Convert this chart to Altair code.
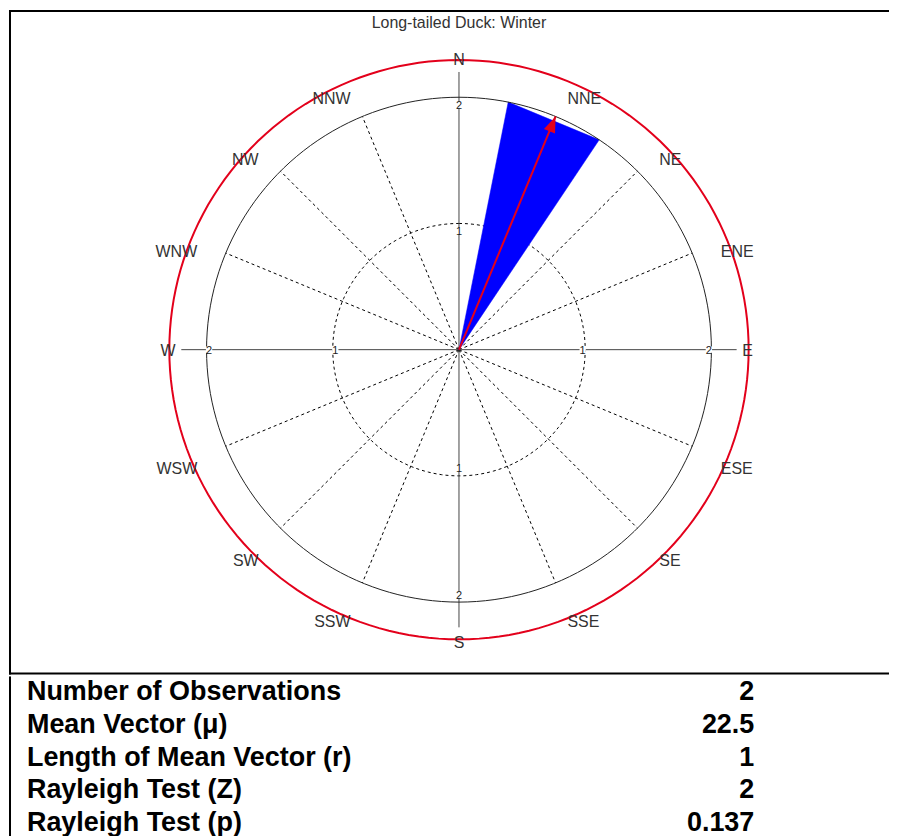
import altair as alt
import pandas as pd

# ---------------- data ----------------
TITLE = "Long-tailed Duck: Winter"
DIRECTIONS = ["N", "NNE", "NE", "ENE", "E", "ESE", "SE", "SSE",
              "S", "SSW", "SW", "WSW", "W", "WNW", "NW", "NNW"]
DIR_ANGLES = [0.0, 22.5, 45.0, 67.5, 90.0, 112.5, 135.0, 157.5,
              180.0, 202.5, 225.0, 247.5, 270.0, 292.5, 315.0, 337.5]
BIN_COUNTS = [0, 2, 0, 0, 0, 0, 0, 0, 0, 0, 0, 0, 0, 0, 0, 0]
RING_VALUES = [1, 2]
MEAN_ANGLE = 22.5
MEAN_LENGTH = 1
STAT_NAMES = ["Number of Observations", "Mean Vector (\u03bc)",
              "Length of Mean Vector (r)", "Rayleigh Test (Z)", "Rayleigh Test (p)"]
STAT_VALUES = ["2", "22.5", "1", "2", "0.137"]

# ---------------- layout / style ----------------
FONT = "Liberation Sans"
UNIT = 126.5                 # pixels per count unit
TOP_W, TOP_H = 882, 666
CX, CY = 451, 340.5          # centre of the rose inside the top panel
TABLE_H = 162
SECTOR_HALF = 11.25
RMAX = max(RING_VALUES)
OUTER_R = 2.295
AXIS_R = 2.2
LABEL_R = 2.245
HEAD_BACK = 8 / UNIT
RED = "#e3001b"
BLUE = "#0000ff"
TXT = "#333333"

XDOM = [-CX / UNIT, (TOP_W - CX) / UNIT]
YDOM = [-(TOP_H - CY) / UNIT, CY / UNIT]
xs = alt.Scale(domain=XDOM, nice=False, zero=False)
ys = alt.Scale(domain=YDOM, nice=False, zero=False)


def X(f):
    return alt.X(f"{f}:Q", scale=xs, axis=None)


def Y(f):
    return alt.Y(f"{f}:Q", scale=ys, axis=None)


def polar(base, r_expr, a_expr, xn="x", yn="y"):
    return base.transform_calculate(**{
        xn: f"({r_expr})*sin(({a_expr})*PI/180)",
        yn: f"({r_expr})*cos(({a_expr})*PI/180)",
    })


def ring(r, color, width, dash=None):
    kw = dict(color=color, strokeWidth=width)
    if dash:
        kw["strokeDash"] = dash
    base = alt.Chart(alt.sequence(0, 362, 2, as_="deg"))
    return polar(base, str(r), "datum.deg").mark_line(**kw).encode(
        x=X("x"), y=Y("y"), order=alt.Order("deg:Q"))


dirs = pd.DataFrame({"name": DIRECTIONS, "angle": DIR_ANGLES})

inner_ring = ring(RING_VALUES[0], "black", 1, [3, 3])
outer_grid_ring = ring(RING_VALUES[-1], "#222222", 1)
red_ring = ring(OUTER_R, RED, 2)

spokes = polar(alt.Chart(dirs).transform_filter("datum.angle % 90 != 0"),
               str(RMAX), "datum.angle", "xe", "ye").transform_calculate(
    x0="0", y0="0").mark_rule(color="black", strokeWidth=1, strokeDash=[3, 3]).encode(
    x=X("x0"), y=Y("y0"), x2=alt.X2("xe:Q"), y2=alt.Y2("ye:Q"))

axes = polar(alt.Chart(dirs).transform_filter("datum.angle % 90 == 0"),
             str(AXIS_R), "datum.angle", "xe", "ye").transform_calculate(
    x0="0", y0="0").mark_rule(color="#444444", strokeWidth=1).encode(
    x=X("x0"), y=Y("y0"), x2=alt.X2("xe:Q"), y2=alt.Y2("ye:Q"))

# wedge polygons for every non-empty sector
rows = []
for name, ang, cnt in zip(DIRECTIONS, DIR_ANGLES, BIN_COUNTS):
    if cnt > 0:
        rows += [
            {"sector": name, "k": 0, "r": 0, "a": ang},
            {"sector": name, "k": 1, "r": cnt, "a": ang - SECTOR_HALF},
            {"sector": name, "k": 2, "r": cnt, "a": ang + SECTOR_HALF},
            {"sector": name, "k": 3, "r": 0, "a": ang},
        ]
wedges = polar(alt.Chart(pd.DataFrame(rows)), "datum.r", "datum.a").mark_line(
    fill=BLUE, stroke=BLUE, strokeWidth=0.5).encode(
    x=X("x"), y=Y("y"), order=alt.Order("k:Q"), detail="sector:N")

mean_df = pd.DataFrame({"angle": [MEAN_ANGLE], "length": [MEAN_LENGTH]})
shaft = polar(alt.Chart(mean_df), f"datum.length*{RMAX}", "datum.angle", "xe", "ye").transform_calculate(
    x0="0", y0="0").mark_rule(color=RED, strokeWidth=2).encode(
    x=X("x0"), y=Y("y0"), x2=alt.X2("xe:Q"), y2=alt.Y2("ye:Q"))
head = polar(alt.Chart(mean_df), f"datum.length*{RMAX} - {HEAD_BACK}", "datum.angle").mark_point(
    shape="M0,-1L0.75,1L-0.75,1Z", size=256, filled=True, color=RED, opacity=1).encode(
    x=X("x"), y=Y("y"), angle=alt.Angle("angle:Q", scale=None))

# ring value labels on the four cardinal axes
ticks = pd.DataFrame([{"r": r, "angle": a, "lab": str(r)}
                      for r in RING_VALUES for a in DIR_ANGLES if a % 90 == 0])
tick_base = polar(alt.Chart(ticks).transform_calculate(
    rp="datum.r - (abs(cos(datum.angle*PI/180)) > 0.5 ? 0.059 : 0.02)"),
    "datum.rp", "datum.angle")
tick_bg = tick_base.mark_square(size=40, color="white", opacity=1).encode(x=X("x"), y=Y("y"))
tick_txt = tick_base.mark_text(font=FONT, fontSize=11, color="#222222", baseline="middle", dy=1).encode(
    x=X("x"), y=Y("y"), text="lab:N")

# compass labels
label_groups = [
    ("datum.angle > 0 && datum.angle < 180 && datum.angle != 90", "left", 11),
    ("datum.angle > 180 && datum.angle != 270", "right", 11),
    ("datum.angle == 90", "left", 1),
    ("datum.angle == 270", "right", 1),
    ("datum.angle == 0", "center", -6),
    ("datum.angle == 180", "center", 10),
]
label_layers = []
for flt, al, dy in label_groups:
    label_layers.append(
        polar(alt.Chart(dirs).transform_filter(flt), str(LABEL_R), "datum.angle").mark_text(
            font=FONT, fontSize=16, color=TXT, align=al, baseline="middle", dy=dy).encode(
            x=X("x"), y=Y("y"), text="name:N"))

title = alt.Chart(pd.DataFrame({"t": [TITLE]})).mark_text(
    font=FONT, fontSize=16, color=TXT, align="center", baseline="alphabetic").encode(
    x=alt.value(CX), y=alt.value(18), text="t:N")

frame = pd.DataFrame({"k": [0]})
top_border = alt.Chart(frame).mark_rule(color="black", strokeWidth=2).encode(
    x=alt.value(0), x2=alt.value(TOP_W), y=alt.value(1))
left_border = alt.Chart(frame).mark_rule(color="black", strokeWidth=2).encode(
    x=alt.value(1), y=alt.value(0), y2=alt.value(TOP_H))
sep_border = alt.Chart(frame).mark_rule(color="black", strokeWidth=2).encode(
    x=alt.value(0), x2=alt.value(TOP_W), y=alt.value(TOP_H - 1))

top = alt.layer(
    inner_ring, spokes, axes, wedges, outer_grid_ring, red_ring, shaft, head,
    tick_bg, tick_txt, *label_layers, title, top_border, left_border, sep_border
).properties(width=TOP_W, height=TOP_H)

# statistics table
stats = pd.DataFrame({"name": STAT_NAMES, "value": STAT_VALUES})
ysc = alt.Scale(type="point", domain=STAT_NAMES, range=[24, 155], padding=0)
stat_names = alt.Chart(stats).mark_text(
    font=FONT, fontSize=27, fontWeight="bold", color="black", align="left", baseline="alphabetic").encode(
    x=alt.value(18), y=alt.Y("name:N", scale=ysc, axis=None), text="name:N")
stat_vals = alt.Chart(stats).mark_text(
    font=FONT, fontSize=27, fontWeight="bold", color="black", align="right", baseline="alphabetic").encode(
    x=alt.value(747), y=alt.Y("name:N", scale=ysc, axis=None), text="value:N")
table_left = alt.Chart(frame).mark_rule(color="black", strokeWidth=2).encode(
    x=alt.value(1), y=alt.value(0), y2=alt.value(TABLE_H))
table = alt.layer(table_left, stat_names, stat_vals).properties(width=TOP_W, height=TABLE_H)

chart = alt.vconcat(top, table, spacing=0).configure_view(stroke=None).properties(
    padding=0)

chart.save("out.html", embed_options={"renderer": "svg", "actions": False})
